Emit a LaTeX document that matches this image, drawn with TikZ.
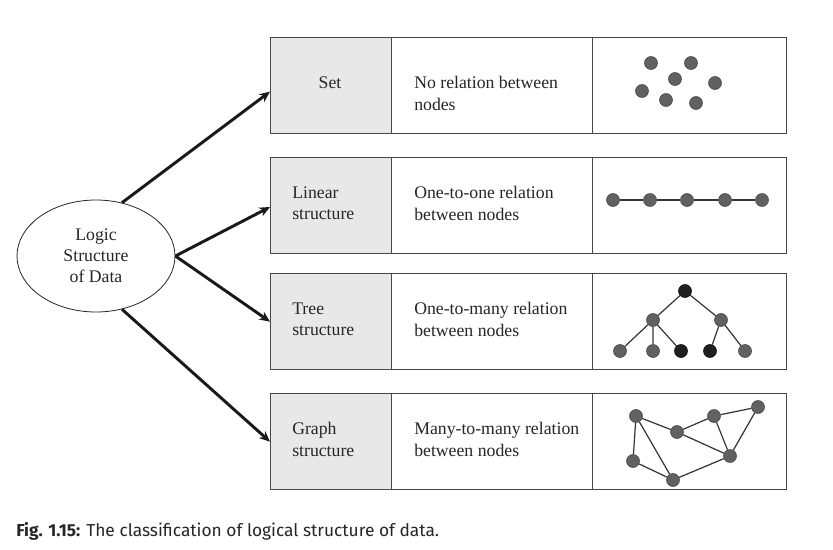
\documentclass[tikz,border=0pt]{standalone}
\usepackage{fontspec}
\setmainfont{Liberation Serif}
\newfontfamily\capfont{Fira Sans}
\usetikzlibrary{shapes.geometric,arrows.meta}
\begin{document}
\begin{tikzpicture}[x=0.75pt,y=-0.75pt,
  txt/.style={font=\fontsize{13.3}{15.9}\selectfont, text=black!85, inner sep=0pt},
  lbl/.style={txt, align=left, anchor=west},
  cellbox/.style={draw=black!72, line width=1pt, anchor=north west, minimum height=72pt, inner sep=0pt},
  leftcell/.style={cellbox, fill=black!9, minimum width=90.75pt},
  midcell/.style={cellbox, minimum width=150.75pt},
  rightcell/.style={cellbox, minimum width=145.5pt},
  dotn/.style={circle, fill=black!62, draw=black!75, line width=0.4pt, minimum size=9.75pt, inner sep=0pt},
  dotb/.style={dotn, fill=black!88, draw=black},
  edge/.style={draw=black!80, line width=0.9pt},
  bigarrow/.style={line width=2.2pt, draw=black!90, -{Stealth[length=8pt,width=7pt]}}]
\useasboundingbox (0,0) rectangle (833,550);
\fill[white] (0,0) rectangle (833,550);

% ellipse
\node[ellipse, draw=black!85, line width=0.6pt, minimum width=118.5pt, minimum height=84pt, inner sep=0pt,
      txt, align=center] (E) at (96,256) {Logic\\Structure\\of Data};

% rows
\foreach \r/\t in {1/37, 2/157, 3/273, 4/393}{
  \node[leftcell] (s\r) at (270,\t) {};
  \node[midcell] (m\r) at (391,\t) {};
  \node[rightcell] (r\r) at (592,\t) {};
}

% left texts
\node[txt] (t1) at (330,83) {Set};
\node[lbl] (t2) at (292,203.5) {Linear\\structure};
\node[lbl] (t3) at (292,319.5) {Tree\\structure};
\node[lbl] (t4) at (292,439.5) {Graph\\structure};

% middle texts
\node[lbl] (d1) at (414,93.5) {No relation between\\nodes};
\node[lbl] (d2) at (414,203.5) {One-to-one relation\\between nodes};
\node[lbl] (d3) at (414,319.5) {One-to-many relation\\between nodes};
\node[lbl] (d4) at (414,439.5) {Many-to-many relation\\between nodes};

% arrows
\draw[bigarrow] (E.64) -- ([yshift=-4.5pt]s1.west);
\draw[bigarrow] (E.east) -- ([yshift=-1pt]s2.west);
\draw[bigarrow] (E.east) -- (s3.west);
\draw[bigarrow] (E.-64) -- (s4.west);

% set
\node[dotn] (p1) at (651,63) {};
\node[dotn] (p2) at (691,63) {};
\node[dotn] (p3) at (675,79) {};
\node[dotn] (p4) at (715,83) {};
\node[dotn] (p5) at (642,91) {};
\node[dotn] (p6) at (666,100) {};
\node[dotn] (p7) at (696,103) {};

% linear
\foreach \i/\x in {1/613, 2/650, 3/687, 4/725, 5/762}{
  \node[dotn] (l\i) at (\x,200) {};
}
\draw[edge] (l1) -- (l2) -- (l3) -- (l4) -- (l5);

% tree
\node[dotb] (tr) at (685,291) {};
\node[dotn] (ta) at (653,320) {};
\node[dotn] (tb) at (721,320) {};
\node[dotn] (tc) at (620,351) {};
\node[dotn] (td) at (653,351) {};
\node[dotb] (te) at (681,351) {};
\node[dotb] (tf) at (710,351) {};
\node[dotn] (tg) at (745,351) {};
\draw[edge] (tr) -- (ta) (tr) -- (tb) (ta) -- (tc) (ta) -- (td) (ta) -- (te) (tb) -- (tf) (tb) -- (tg);

% graph
\node[dotn] (ga) at (636,416) {};
\node[dotn] (gb) at (677,432) {};
\node[dotn] (gc) at (714,416) {};
\node[dotn] (gd) at (758,407) {};
\node[dotn] (ge) at (730,456) {};
\node[dotn] (gf) at (633,461) {};
\node[dotn] (gg) at (673,480) {};
\draw[edge] (ga) -- (gb) (gb) -- (gc) (gc) -- (gd) (gc) -- (ge) (gd) -- (ge) (gb) -- (ge)
  (ga) -- (gf) (ga) -- (gg) (gf) -- (gg) (gg) -- (ge);

% caption
\node[anchor=base west, inner sep=0pt, text=black!85, font=\capfont\fontsize{13}{15}\selectfont] (cap) at (16,536)
  {\textbf{Fig. 1.15:} The classification of logical structure of data.};
\end{tikzpicture}
\end{document}
